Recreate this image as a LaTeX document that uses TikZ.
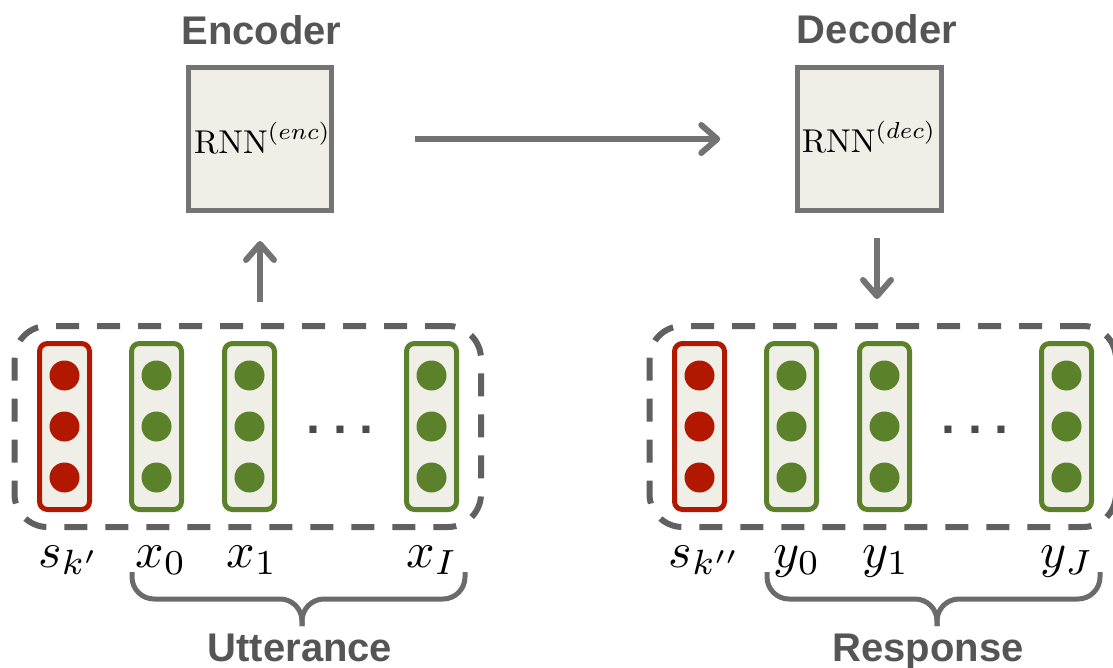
\documentclass[tikz,border=0pt]{standalone}
\usepackage{fontspec}
\newfontfamily\headfont{Liberation Sans}
\usetikzlibrary{arrows.meta}

\definecolor{boxline}{HTML}{747474}
\definecolor{boxfill}{HTML}{EFEFE7}
\definecolor{dashgray}{HTML}{606060}
\definecolor{headgray}{HTML}{555555}
\definecolor{dotgray}{HTML}{4A4A4A}
\definecolor{bracegray}{HTML}{6B6B6B}
\definecolor{arrowgray}{HTML}{737373}
\definecolor{vecred}{HTML}{B21800}
\definecolor{vecgreen}{HTML}{5B822A}

\tikzset{
  rnnbox/.style={draw=boxline, fill=boxfill, line width=5pt,
    minimum width=143.5pt, minimum height=143pt, inner sep=0pt},
  rnnlabel/.style={anchor=base, inner sep=0pt, scale=3.3},
  heading/.style={anchor=base, inner sep=0pt, text=headgray,
    font=\headfont\bfseries\fontsize{40}{48}\selectfont},
  ellipsis/.style={anchor=base, inner sep=0pt, text=dotgray,
    font=\headfont\bfseries\fontsize{50}{50}\selectfont},
  seqbox/.style={draw=dashgray, line width=6pt, dash pattern=on 23pt off 18pt,
    rounded corners=33pt, minimum width=466.5pt, minimum height=201pt, inner sep=0pt},
  vecbox/.style={line width=5pt, fill=boxfill, rounded corners=8pt,
    minimum width=50pt, minimum height=166pt, inner sep=0pt},
  redvec/.style={vecbox, draw=vecred},
  greenvec/.style={vecbox, draw=vecgreen},
  seqlabel/.style={anchor=base, inner sep=0pt, scale=5},
  flow/.style={draw=arrowgray, line width=6pt,
    -{Straight Barb[length=16pt,width=28pt,line cap=round,line join=round]}},
  bracepath/.style={draw=bracegray, line width=5pt, rounded corners=22pt}
}

% three units stacked inside a vector
\newcommand{\vecdots}[2]{%
  \fill[#2] (#1.center) circle (15pt);
  \fill[#2] ([yshift=51pt]#1.center) circle (15pt);
  \fill[#2] ([yshift=-51pt]#1.center) circle (15pt);
}
% spaced ellipsis of square dots
\newcommand{\sqdots}{\textperiodcentered\hspace{9.6pt}\textperiodcentered\hspace{9.6pt}\textperiodcentered}

\begin{document}
\begin{tikzpicture}[x=1pt, y=-1pt]
\useasboundingbox (0,0) rectangle (1113,668);

% encoder and decoder
\node[heading] (enchead) at (261.5,45) {Encoder};
\node[heading] (dechead) at (877,44) {Decoder};
\node[rnnbox] (enc) at (260,139) {};
\node[rnnbox] (dec) at (869.5,139) {};
\node[rnnlabel] (enclbl) at (262.5,154) {$\mathrm{RNN}^{(enc)}$};
\node[rnnlabel] (declbl) at (869,153) {$\mathrm{RNN}^{(dec)}$};

% dashed sequence groups
\node[seqbox] (utt) at (247.75,426.5) {};
\node[seqbox] (resp) at (882.75,426.5) {};

% utterance side vectors
\node[redvec] (sk1) at (64.5,426.5) {};
\node[greenvec] (x0) at (156.5,426.5) {};
\node[greenvec] (x1) at (249.5,426.5) {};
\node[greenvec] (xI) at (431.5,426.5) {};
\vecdots{sk1}{vecred}
\vecdots{x0}{vecgreen}
\vecdots{x1}{vecgreen}
\vecdots{xI}{vecgreen}
\node[ellipsis] (udots) at (341.5,446.5) {\sqdots};

% response side vectors
\node[redvec] (sk2) at (699.5,426.5) {};
\node[greenvec] (y0) at (791.5,426.5) {};
\node[greenvec] (y1) at (884.5,426.5) {};
\node[greenvec] (yJ) at (1066.5,426.5) {};
\vecdots{sk2}{vecred}
\vecdots{y0}{vecgreen}
\vecdots{y1}{vecgreen}
\vecdots{yJ}{vecgreen}
\node[ellipsis] (rdots) at (976.5,446.5) {\sqdots};

% labels under the vectors
\node[seqlabel] (lsk1) at (69,567) {$s_{k'}$};
\node[seqlabel] (lx0) at (161,567) {$x_0$};
\node[seqlabel] (lx1) at (252,567) {$x_1$};
\node[seqlabel] (lxI) at (432,567) {$x_I$};
\node[seqlabel] (lsk2) at (705,567) {$s_{k''}$};
\node[seqlabel] (ly0) at (797,567) {$y_0$};
\node[seqlabel] (ly1) at (886,567) {$y_1$};
\node[seqlabel] (lyJ) at (1067,567) {$y_J$};

% braces and captions
\draw[bracepath] (132,572) -- (132,599) -- (302,599) -- (302,626);
\draw[bracepath] (465,572) -- (465,599) -- (302,599) -- (302,626);
\draw[bracepath] (767,572) -- (767,599) -- (937,599) -- (937,626);
\draw[bracepath] (1100,572) -- (1100,599) -- (937,599) -- (937,626);
\node[heading] (uttcap) at (300,661) {Utterance};
\node[heading] (respcap) at (928,661) {Response};

% information flow
\draw[flow, shorten <=21pt, shorten >=28pt] (utt.north -| enc.south) -- (enc.south);
\draw[flow, shorten <=81pt, shorten >=75pt] (enc.east) -- (dec.west);
\draw[flow, shorten <=25pt, shorten >=24pt] ([xshift=7.5pt]dec.south) -- ([xshift=7.5pt]dec.south |- resp.north);
\end{tikzpicture}
\end{document}
